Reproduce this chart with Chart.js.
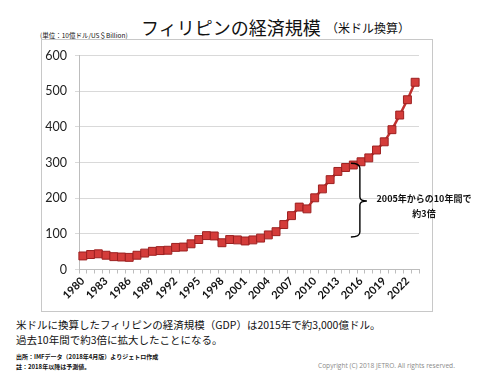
<!DOCTYPE html>
<html>
<head>
<meta charset="utf-8">
<script src="https://cdn.jsdelivr.net/npm/chart.js@4"></script>
<style>
  body { margin: 0; background: #fff; }
  #page { position: relative; width: 487px; height: 375px; overflow: hidden; font-family: "Noto Sans CJK JP", sans-serif; color: #111; }
  .t { position: absolute; white-space: nowrap; }
  #box { position: absolute; left: 41px; top: 39px; width: 390px; height: 271px; border: 1.5px solid #c8c8c8; }
  #graficoPib { position: absolute; left: 42px; top: 40px; }
</style>
</head>
<body>
<div id="page">
  <div class="t" style="left:141px; top:14px; font-size:18px;">フィリピンの経済規模</div>
  <div class="t" style="left:326px; top:19px; font-size:12px;">（米ドル換算）</div>
  <div class="t" style="left:40px; top:30px; font-size:6.5px;">(単位：10億ドル/US＄Billion)</div>

  <div id="box"></div>
  <canvas id="graficoPib" width="390" height="271"></canvas>

  <div class="t" style="left:372px; top:191px; width:104px; text-align:center; font-size:9px; font-weight:bold; line-height:15px;">2005年からの10年間で<br>約3倍</div>

  <div class="t" style="left:16px; top:317px; font-size:10.5px; line-height:15px;">米ドルに換算したフィリピンの経済規模（GDP）は2015年で約3,000億ドル。<br>過去10年間で約3倍に拡大したことになる。</div>
  <div class="t" style="left:16px; top:352px; font-size:6px; font-weight:bold; line-height:10px;">出所：IMFデータ（2018年4月版）よりジェトロ作成<br>註：2018年以降は予測値。</div>
  <div class="t" style="left:318px; top:361px; font-size:6.6px; color:#8a8a8a; font-family:'Open Sans', sans-serif;">Copyright (C) 2018 JETRO. All rights reserved.</div>
</div>

<script>
// datos (10億ドル)
const anios = ["1980","1981","1982","1983","1984","1985","1986","1987","1988","1989",
               "1990","1991","1992","1993","1994","1995","1996","1997","1998","1999",
               "2000","2001","2002","2003","2004","2005","2006","2007","2008","2009",
               "2010","2011","2012","2013","2014","2015","2016","2017","2018","2019",
               "2020","2021","2022","2023"];
const pib = [38, 42, 44, 40, 36, 35, 34, 40, 46, 51,
             53, 54, 62, 63, 72, 84, 95, 94, 75, 84,
             83, 80, 83, 88, 97, 106, 126, 151, 175, 170,
             201, 226, 252, 275, 286, 293, 302, 313, 335, 358,
             392, 433, 476, 525];
const aniosEtiqueta = ["1980","1983","1986","1989","1992","1995","1998","2001","2004","2007","2010","2013","2016","2019","2022"];
const ticksY = [0, 100, 200, 300, 400, 500, 600];

// llave "}" de la anotación 2005-2015
const llave = {
    id: "llave",
    afterDatasetsDraw(chart) {
        const x = chart.scales.x, y = chart.scales.y;
        const paso = x.getPixelForValue(36) - x.getPixelForValue(35);
        const bx = x.getPixelForValue(35) + paso * 0.85;
        const top = y.getPixelForValue(298), bot = y.getPixelForValue(91), mid = y.getPixelForValue(192);
        const ctx = chart.ctx;
        ctx.save();
        ctx.strokeStyle = "#000";
        ctx.lineWidth = 1.4;
        ctx.beginPath();
        ctx.moveTo(bx - 9, top);
        ctx.quadraticCurveTo(bx, top, bx, top + 5);
        ctx.lineTo(bx, mid - 4);
        ctx.quadraticCurveTo(bx, mid, bx + 7, mid);
        ctx.quadraticCurveTo(bx, mid, bx, mid + 4);
        ctx.lineTo(bx, bot - 5);
        ctx.quadraticCurveTo(bx, bot, bx - 9, bot);
        ctx.stroke();
        ctx.restore();
    }
};

const ctx = document.getElementById("graficoPib").getContext("2d");
new Chart(ctx, {
    type: "line",
    data: {
        labels: anios,
        datasets: [{
            data: pib,
            borderColor: "#c0312f",
            borderWidth: 2.5,
            backgroundColor: "#d43c3a",
            pointStyle: "rect",
            pointRadius: 5.6,
            pointBorderColor: "#9c2020",
            pointBorderWidth: 1,
            tension: 0
        }]
    },
    options: {
        responsive: false,
        animation: false,
        devicePixelRatio: 1,
        layout: { padding: { left: 0, top: 12, right: 13, bottom: 0 } },
        plugins: {
            legend: { display: false },
            tooltip: { enabled: false }
        },
        scales: {
            x: {
                offset: true,
                afterFit: s => { s.height = 41.5; },
                grid: { offset: true, drawOnChartArea: false, drawTicks: true, tickLength: 4, color: "#bdbdbd" },
                border: { color: "#bdbdbd" },
                ticks: {
                    autoSkip: false,
                    minRotation: 45,
                    maxRotation: 45,
                    padding: 1,
                    color: "#111",
                    font: { family: "Lato, 'Open Sans', sans-serif", size: 11, weight: "bold" },
                    callback: function (v) {
                        const l = this.getLabelForValue(v);
                        return aniosEtiqueta.includes(l) ? l : "";
                    }
                }
            },
            y: {
                min: ticksY[0],
                max: ticksY[ticksY.length - 1],
                afterFit: s => { s.width = 37; },
                afterBuildTicks: s => { s.ticks = ticksY.map(v => ({ value: v })); },
                grid: { color: "#d9d9d9", tickLength: 4 },
                border: { color: "#bdbdbd" },
                ticks: {
                    padding: 8,
                    color: "#222",
                    font: { family: "Lato, 'Open Sans', sans-serif", size: 12.5 }
                }
            }
        }
    },
    plugins: [llave]
});
</script>
</body>
</html>
